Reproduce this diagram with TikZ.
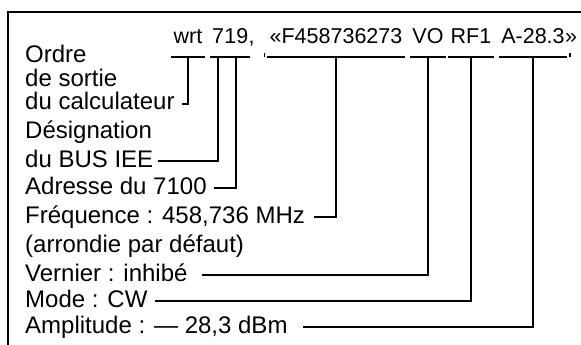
\documentclass[tikz,border=0pt]{standalone}
\usepackage{fontspec}
\setmainfont{Liberation Sans}
\usetikzlibrary{calc}

\begin{document}
\begin{tikzpicture}[x=1pt,y=-1pt,
    cmd/.style={anchor=base,inner sep=0pt,font=\fontsize{21.5}{25}\selectfont},
    lbl/.style={anchor=base west,inner sep=0pt,font=\fontsize{24}{28}\selectfont},
    lead/.style={line width=1.7pt},
    frame/.style={line width=2.4pt}]
  \useasboundingbox (0,0) rectangle (581,345);
  \draw[frame] (8,345) -- (8,12) -- (581,12);

  \node[cmd] (wrt)  at (188,44) {wrt};
  \node[cmd] (sel)  at (218,44) {7};
  \node[cmd,anchor=base west] (adr) at (sel.base east) {19};
  \node[cmd,anchor=base west] (comma) at (adr.base east) {,};
  \node[cmd] (freq) at (336,44) {«F458736273};
  \node[cmd] (vern) at (428,44) {VO};
  \node[cmd] (mode) at (471,44) {RF1};
  \node[cmd] (ampl) at (533,44) {A-28.3};
  \node[cmd,anchor=base west] (rq) at (ampl.base east) {»};

  \node[lbl] (ordre)   at (25,63)  {Ordre};
  \node[lbl] (sortie)  at (25,86)  {de sortie};
  \node[lbl] (calc)    at (25,110) {du calculateur};
  \node[lbl] (desig)   at (25,138) {Désignation};
  \node[lbl] (bus)     at (25,167) {du BUS IEE};
  \node[lbl] (addr)    at (25,194) {Adresse du 7100};
  \node[lbl] (frequ)   at (25,223) {Fréquence : 458,736 MHz};
  \node[lbl] (arr)     at (25,252) {(arrondie par défaut)};
  \node[lbl] (vernier) at (25,281) {Vernier : inhibé};
  \node[lbl] (modecw)  at (25,307) {Mode : CW};
  \node[lbl] (amp)     at (25,333) {Amplitude : — 28,3 dBm};

  \foreach \t in {wrt,sel,adr,freq,vern,mode,ampl}
    \draw[lead] ([xshift=-2pt,yshift=-13pt]\t.base west) -- ([xshift=2pt,yshift=-13pt]\t.base east);
  \draw[lead] ([xshift=-5pt,yshift=-13pt]freq.base west) -- ++(0,-4);
  \draw[lead] ([xshift=5pt,yshift=-13pt]ampl.base east) -- ++(0,-4);

  \foreach \t/\l/\g in {wrt/calc/7,sel/bus/5,adr/addr/7,freq/frequ/9,vern/vernier/14,mode/modecw/7,ampl/amp/15}
    \draw[lead] ([yshift=-13pt]\t.base) |- ([xshift=\g pt,yshift=6pt]\l.base east);
\end{tikzpicture}
\end{document}
